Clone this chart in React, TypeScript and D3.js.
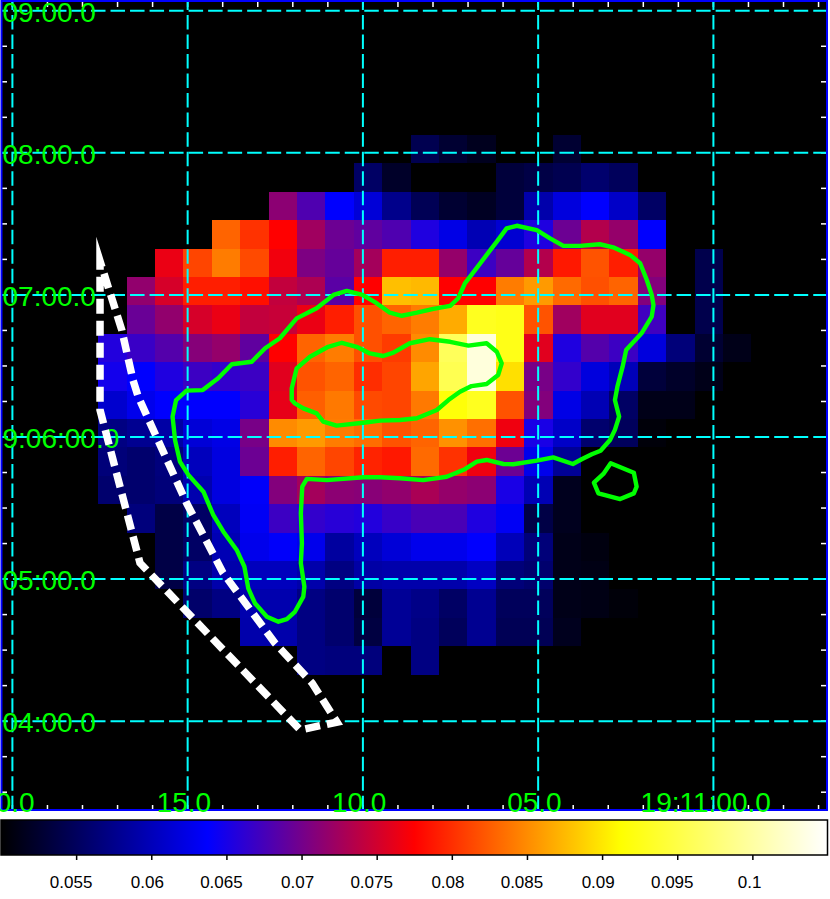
import { useEffect, useRef } from "react";
import * as d3 from "d3";

const WIDTH = 830;
const HEIGHT = 899;

// colour map of the image, value -> colour
const colourValues = [0.05, 0.06375, 0.0775, 0.09125, 0.105];
const colourNames = ["#000000", "#0000ff", "#ff0000", "#ffff00", "#ffffff"];

// image rows from the top, each one starts at rowStarts[i] (column index)
const rowStarts = [11, 9, 6, 4, 2, 1, 1, 0, 0, 0, 0, 0, 0, 1, 2, 2, 3, 5, 7];
const row00 = [0.0543, 0.0527, 0.0516, 0.05, 0.05, 0.0527];
const row01 = [0.0554, 0.0522, 0.05, 0.05, 0.05, 0.0532, 0.0538, 0.0543, 0.0559, 0.0549];
const row02 = [0.0713, 0.068, 0.0637, 0.0616, 0.0575, 0.0546, 0.0527, 0.0519, 0.0532, 0.0592, 0.0619, 0.0637, 0.0608, 0.0554];
const row03 = [0.0829, 0.0802, 0.0775, 0.0724, 0.0696, 0.0689, 0.068, 0.0654, 0.0624, 0.0597, 0.0613, 0.0654, 0.0696, 0.0734, 0.0718, 0.0637];
const row04 = [0.0764, 0.0812, 0.0842, 0.0815, 0.0768, 0.0705, 0.0692, 0.0726, 0.0791, 0.0791, 0.0718, 0.067, 0.0692, 0.0734, 0.0788, 0.082, 0.0791, 0.0718, 0.05, 0.0541];
const row05 = [0.0716, 0.0753, 0.0791, 0.0791, 0.0783, 0.0742, 0.0731, 0.0686, 0.0775, 0.0878, 0.0875, 0.0775, 0.0775, 0.0842, 0.0858, 0.0832, 0.0818, 0.0829, 0.0708, 0.05, 0.0541];
const row06 = [0.0694, 0.0716, 0.0753, 0.0764, 0.0742, 0.0745, 0.0764, 0.0791, 0.0818, 0.0829, 0.0842, 0.0867, 0.0929, 0.0925, 0.082, 0.0724, 0.0759, 0.0759, 0.0672, 0.05, 0.0541];
const row07 = [0.0656, 0.0668, 0.0683, 0.071, 0.0718, 0.0689, 0.0775, 0.0829, 0.0842, 0.0818, 0.0807, 0.085, 0.0961, 0.1031, 0.0925, 0.0759, 0.0654, 0.0683, 0.067, 0.0619, 0.0565, 0.0527, 0.0513];
const row08 = [0.0648, 0.0637, 0.0654, 0.067, 0.0665, 0.067, 0.0759, 0.082, 0.0829, 0.0799, 0.0812, 0.0864, 0.0956, 0.1031, 0.0896, 0.0702, 0.0665, 0.0619, 0.06, 0.0532, 0.0522, 0.0513];
const row09 = [0.0611, 0.0627, 0.0637, 0.0637, 0.0637, 0.0659, 0.0762, 0.0826, 0.084, 0.0815, 0.0812, 0.084, 0.0917, 0.0929, 0.082, 0.0708, 0.0624, 0.0597, 0.0554, 0.0513, 0.0513];
const row10 = [0.057, 0.0578, 0.0589, 0.0616, 0.0624, 0.0702, 0.085, 0.0858, 0.0842, 0.0834, 0.082, 0.0829, 0.0853, 0.0835, 0.0767, 0.0651, 0.0608, 0.0559, 0.0549, 0.0505];
const row11 = [0.0565, 0.0559, 0.0567, 0.0602, 0.0621, 0.0696, 0.0791, 0.0829, 0.0812, 0.0794, 0.0788, 0.0832, 0.0802, 0.0767, 0.0696, 0.0627, 0.0581];
const row12 = [0.0559, 0.0559, 0.0565, 0.0594, 0.0621, 0.0635, 0.0708, 0.0726, 0.0713, 0.0711, 0.0716, 0.0729, 0.0718, 0.0713, 0.0651, 0.0597, 0.0516];
const row13 = [0.0567, 0.0538, 0.0554, 0.0602, 0.0632, 0.067, 0.0665, 0.0659, 0.0656, 0.0667, 0.0677, 0.0677, 0.0654, 0.0632, 0.0538, 0.0516];
const row14 = [0.0538, 0.0554, 0.0597, 0.0627, 0.0635, 0.0627, 0.0586, 0.0602, 0.0616, 0.0627, 0.0627, 0.0637, 0.06, 0.0565, 0.0513, 0.0508];
const row15 = [0.0538, 0.057, 0.0592, 0.0602, 0.0602, 0.0592, 0.057, 0.0589, 0.0592, 0.0592, 0.0592, 0.0605, 0.0565, 0.0559, 0.0513, 0.0511];
const row16 = [0.0557, 0.057, 0.0594, 0.0594, 0.057, 0.0559, 0.0532, 0.0581, 0.0573, 0.0554, 0.0578, 0.0549, 0.0549, 0.0513, 0.0511, 0.0505];
const row17 = [0.0592, 0.0592, 0.057, 0.0559, 0.0535, 0.0581, 0.057, 0.0549, 0.0578, 0.0546, 0.0546, 0.0516];
const row18 = [0.057, 0.0567, 0.0567, 0.05, 0.057];
const imageRows = [row00, row01, row02, row03, row04, row05, row06, row07, row08, row09, row10, row11, row12, row13, row14, row15, row16, row17, row18];

// contours and region, [RA seconds after 19:11:00, Dec arcsec after +09:00:00]
const outerContour = [
  [10.46, 421.7], [10.01, 420.0], [9.61, 416.5], [9.23, 412.5], [8.89, 411.2], [8.46, 412.5], [7.99, 414.1], [7.51, 415.4],
  [7.28, 418.6], [7.09, 424.9], [6.8, 430.5], [6.47, 436.9], [6.18, 442.5], [5.9, 448.1], [5.61, 449.2], [5.04, 447.4],
  [4.66, 443.9], [4.28, 440.7], [3.81, 440.7], [3.24, 441.4], [2.86, 440.1], [2.38, 436.9], [2.09, 433.4], [1.9, 426.3],
  [1.76, 420.0], [1.71, 415.7], [1.76, 410.8], [2.05, 403.8], [2.49, 396.7], [2.59, 389.7], [2.74, 381.2], [2.81, 375.6],
  [2.69, 368.6], [2.81, 363.0], [2.95, 358.7], [3.22, 354.2], [3.47, 352.7], [3.76, 350.6], [4.01, 348.6], [4.57, 351.4],
  [5.04, 350.0], [5.71, 348.5], [5.99, 348.6], [6.47, 350.3], [6.75, 349.6], [7.09, 346.4], [7.61, 343.2], [8.28, 341.8],
  [8.94, 342.6], [9.51, 343.0], [9.99, 343.0], [11.03, 341.8], [11.6, 342.3], [11.73, 339.0], [11.77, 327.8], [11.74, 315.1],
  [11.77, 306.7], [11.67, 296.8], [11.7, 292.6], [11.94, 286.2], [12.17, 283.1], [12.41, 282.0], [12.74, 284.1], [13.08, 289.8],
  [13.27, 296.1], [13.38, 305.2], [13.6, 312.3], [13.98, 320.0], [14.27, 327.1], [14.55, 336.9], [14.98, 344.0], [15.22, 349.6],
  [15.36, 358.7], [15.43, 368.6], [15.33, 375.6], [15.03, 379.6], [14.57, 379.8], [14.13, 384.8], [13.74, 390.7], [13.17, 391.8],
  [12.79, 397.5], [12.37, 401.7], [11.89, 410.1], [11.32, 414.4], [10.84, 420.0],
];
const innerContour = [
  [12.03, 380.6], [11.89, 389.0], [11.51, 393.9], [10.99, 398.1], [10.6, 399.8], [10.18, 398.1], [9.8, 395.3], [9.42, 394.2],
  [9.13, 395.6], [8.66, 399.6], [8.09, 401.3], [7.51, 400.2], [6.99, 398.6], [6.47, 399.6], [6.18, 396.0], [6.04, 391.1],
  [6.14, 386.2], [6.47, 382.4], [6.9, 381.5], [7.23, 379.1], [7.56, 375.6], [7.89, 371.4], [8.46, 367.9], [8.94, 367.2],
  [9.51, 366.9], [9.99, 366.0], [10.75, 364.8], [11.13, 366.5], [11.32, 370.0], [11.7, 372.1], [11.94, 374.2], [12.03, 375.6],
];
const smallContour = [
  [2.93, 348.9], [2.27, 344.9], [2.19, 339.0], [2.27, 336.2], [2.66, 333.8], [3.28, 336.2], [3.41, 340.7], [3.14, 344.4],
];
// starts just before the sharp corner so that the corner falls inside a dash
const regionPoints = [
  [16.88, 405.2], [17.5, 434.3], [17.5, 371.4], [16.36, 306.8], [11.79, 236.3], [10.74, 239.6], [11.45, 256.1], [12.51, 273.0],
  [13.99, 302.6], [15.03, 332.1], [16.41, 377.0], [16.56, 384.1],
];

// axis labels
const raMajor = [20, 15, 10, 5, 0];
const raLabels = ["0.0", "15.0", "10.0", "05.0", "19:11:00.0"];
const decMajor = [540, 480, 420, 360, 300, 240];
const decLabels = ["09:00.0", "08:00.0", "07:00.0", "9:06:00.0", "05:00.0", "04:00.0"];
const raMinor = d3.range(-3, 21);
const decMinor = d3.range(210, 540, 15);
const barTicks = [0.055, 0.06, 0.065, 0.07, 0.075, 0.08, 0.085, 0.09, 0.095, 0.1];

const App = () => {
  const svgRef = useRef<SVGSVGElement>(null);

  useEffect(() => {
    const svg = d3.select(svgRef.current);
    svg.selectAll("*").remove();

    const frame = { left: 1.5, right: 827, top: 1, bottom: 810 };
    const x = d3.scaleLinear().domain([0, 15]).range([713.4, 187.65]);
    const y = d3.scaleLinear().domain([360, 540]).range([437, 10.76]);
    const col = d3.scaleLinear().domain([0, 1]).range([98.2, 126.6]);
    const row = d3.scaleLinear().domain([0, 1]).range([135, 163.4]);
    const barX = d3.scaleLinear().domain([0.05, 0.105]).range([1, 827.5]);
    const colour = d3
      .scaleLinear<string>()
      .domain(colourValues)
      .range(colourNames)
      .clamp(true);

    svg
      .append("rect")
      .attr("x", frame.left)
      .attr("y", frame.top)
      .attr("width", frame.right - frame.left)
      .attr("height", frame.bottom - frame.top)
      .attr("fill", "#000");

    // image cells
    const cells = imageRows.flatMap((values, r) =>
      values.map((value, i) => ({ value, r, c: rowStarts[r] + i }))
    );
    svg
      .append("g")
      .attr("shape-rendering", "crispEdges")
      .selectAll("rect")
      .data(cells)
      .join("rect")
      .attr("x", (d) => col(d.c))
      .attr("y", (d) => row(d.r))
      .attr("width", (d) => col(d.c + 1) - col(d.c))
      .attr("height", (d) => row(d.r + 1) - row(d.r))
      .attr("fill", (d) => colour(d.value));

    // small white ticks on all four sides
    const ticks = svg.append("g").attr("stroke", "#fff").attr("stroke-width", 1.5);
    raMinor.forEach((ra) => {
      ticks.append("line").attr("x1", x(ra)).attr("x2", x(ra)).attr("y1", 2).attr("y2", 7);
      ticks.append("line").attr("x1", x(ra)).attr("x2", x(ra)).attr("y1", 805).attr("y2", 810);
    });
    decMinor.forEach((dec) => {
      ticks.append("line").attr("x1", 2).attr("x2", 7).attr("y1", y(dec)).attr("y2", y(dec));
      ticks.append("line").attr("x1", 821).attr("x2", 826).attr("y1", y(dec)).attr("y2", y(dec));
    });

    // coordinate grid
    const grid = svg
      .append("g")
      .attr("stroke", "#00ffff")
      .attr("stroke-width", 2)
      .attr("stroke-dasharray", "14.5 5.02");
    raMajor.forEach((ra) => {
      grid
        .append("line")
        .attr("x1", x(ra))
        .attr("x2", x(ra))
        .attr("y1", frame.top)
        .attr("y2", frame.bottom)
        .attr("stroke-dashoffset", 5.5);
    });
    decMajor.forEach((dec) => {
      grid
        .append("line")
        .attr("x1", frame.left)
        .attr("x2", frame.right)
        .attr("y1", y(dec))
        .attr("y2", y(dec))
        .attr("stroke-dashoffset", 8.1);
    });

    svg
      .append("rect")
      .attr("x", frame.left)
      .attr("y", frame.top)
      .attr("width", frame.right - frame.left)
      .attr("height", frame.bottom - frame.top)
      .attr("fill", "none")
      .attr("stroke", "#0000ff")
      .attr("stroke-width", 2);

    // green coordinate labels
    const labels = svg
      .append("g")
      .attr("fill", "#00ff00")
      .attr("font-family", "'Liberation Sans', sans-serif")
      .attr("font-size", 28);
    labels
      .selectAll("text.dec")
      .data(decLabels)
      .join("text")
      .attr("class", "dec")
      .attr("x", 2.5)
      .attr("y", (d, i) => y(decMajor[i]) + 11)
      .text((d) => d);
    labels
      .selectAll("text.ra")
      .data(raLabels)
      .join("text")
      .attr("class", "ra")
      .attr("text-anchor", "middle")
      .attr("x", (d, i) => x(raMajor[i]) + (d.length > 4 ? -7.7 : d.length === 3 ? 2.7 : -3.7))
      .attr("y", 812)
      .text((d) => d);

    // contours and region outline
    const skyLine = d3
      .line<number[]>()
      .x((d) => x(d[0]))
      .y((d) => y(d[1]))
      .curve(d3.curveLinearClosed);
    svg
      .append("g")
      .attr("fill", "none")
      .attr("stroke", "#00ff00")
      .attr("stroke-width", 4.4)
      .attr("stroke-linejoin", "round")
      .selectAll("path")
      .data([outerContour, innerContour, smallContour])
      .join("path")
      .attr("d", (d) => skyLine(d));
    svg
      .append("path")
      .attr("d", skyLine(regionPoints))
      .attr("fill", "none")
      .attr("stroke", "#fff")
      .attr("stroke-width", 7.5)
      .attr("stroke-dasharray", "15 7")
      .attr("stroke-miterlimit", 20);

    // colour bar
    const gradient = svg
      .append("defs")
      .append("linearGradient")
      .attr("id", "bar-gradient")
      .attr("x1", "0%")
      .attr("x2", "100%");
    gradient
      .selectAll("stop")
      .data(colourValues)
      .join("stop")
      .attr("offset", (d) => (d - 0.05) / 0.055)
      .attr("stop-color", (d) => colour(d));
    svg
      .append("rect")
      .attr("x", barX(0.05))
      .attr("y", 820)
      .attr("width", barX(0.105) - barX(0.05))
      .attr("height", 35)
      .attr("fill", "url(#bar-gradient)")
      .attr("stroke", "#000")
      .attr("stroke-width", 1.5);

    const barAxis = d3
      .axisBottom(barX)
      .tickValues(barTicks)
      .tickFormat((d) => String(d))
      .tickSize(5)
      .tickPadding(16);
    const barGroup = svg
      .append("g")
      .attr("transform", "translate(0,855)")
      .call(barAxis)
      .attr("font-family", "'Liberation Sans', sans-serif")
      .attr("font-size", 17);
    barGroup.select(".domain").remove();
    barGroup.selectAll(".tick line").attr("stroke", "#000").attr("stroke-width", 1.5);
    barGroup
      .selectAll<SVGTextElement, number>(".tick text")
      .attr("fill", "#000")
      .attr("dx", (d) => -1.1 * String(d).length);
  }, []);

  return (
    <svg
      ref={svgRef}
      width={WIDTH}
      height={HEIGHT}
      style={{ position: "absolute", left: 0, top: 0, background: "#fff" }}
    />
  );
};

export default App;
